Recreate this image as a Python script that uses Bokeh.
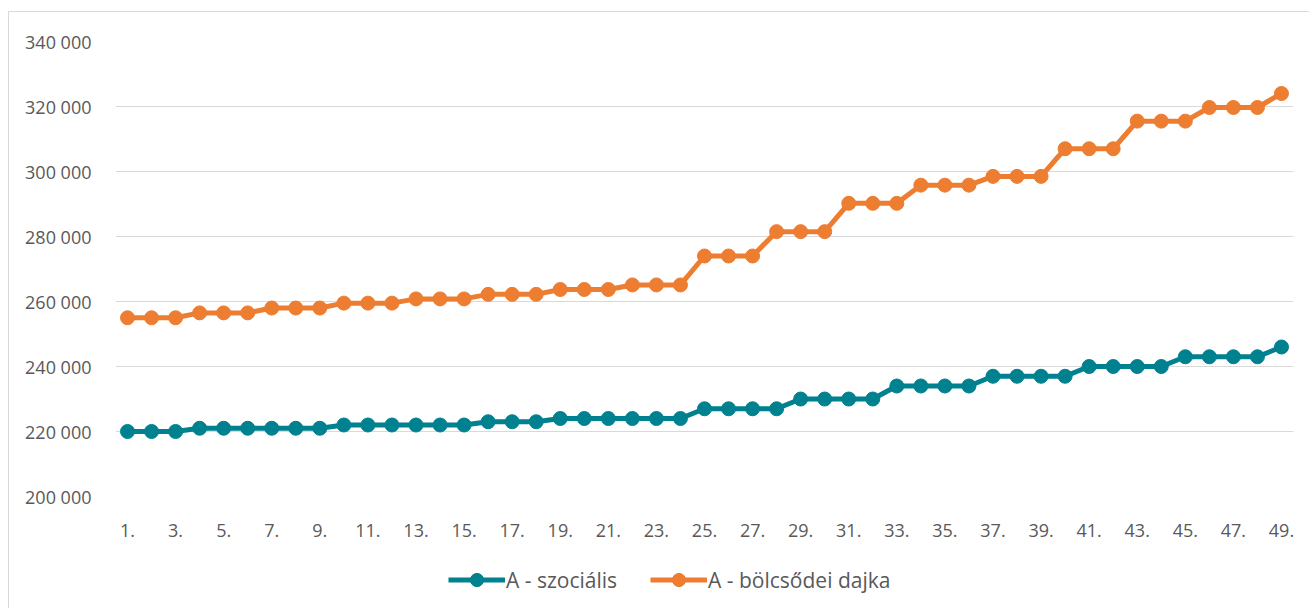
from bokeh.plotting import figure
from bokeh.layouts import column
from bokeh.models import Range1d, FixedTicker, Legend, LegendItem
from bokeh.embed import file_html
from bokeh.resources import INLINE

categories = [f"{i}." for i in range(1, 50)]

szocialis = [
    220000, 220000, 220000,
    221000, 221000, 221000, 221000, 221000, 221000,
    222000, 222000, 222000, 222000, 222000, 222000,
    223000, 223000, 223000,
    224000, 224000, 224000, 224000, 224000, 224000,
    227000, 227000, 227000, 227000,
    230000, 230000, 230000, 230000,
    234000, 234000, 234000, 234000,
    237000, 237000, 237000, 237000,
    240000, 240000, 240000, 240000,
    243000, 243000, 243000, 243000,
    246000,
]

bolcsodei_dajka = [
    255000, 255000, 255000,
    256500, 256500, 256500,
    258000, 258000, 258000,
    259500, 259500, 259500,
    260800, 260800, 260800,
    262200, 262200, 262200,
    263700, 263700, 263700,
    265100, 265100, 265100,
    274000, 274000, 274000,
    281500, 281500, 281500,
    290200, 290200, 290200,
    295800, 295800, 295800,
    298500, 298500, 298500,
    307000, 307000, 307000,
    315500, 315500, 315500,
    319700, 319700, 319700,
    324000,
]

series_names = ["A - szociális", "A - bölcsődei dajka"]
y_ticks = [200000, 220000, 240000, 260000, 280000, 300000, 320000, 340000]
y_tick_labels = ["200 000", "220 000", "240 000", "260 000", "280 000", "300 000", "320 000", "340 000"]

TEAL = "#00818F"
ORANGE = "#ED7D31"
TEXT = "#595959"
GRID = "#d9d9d9"
FONT = "Open Sans"

x = list(range(len(categories)))
series = [szocialis, bolcsodei_dajka]
colors = [TEAL, ORANGE]

p = figure(
    width=1300, height=544,
    output_backend="svg", toolbar_location=None,
    x_range=Range1d(-0.5, len(categories) - 0.5),
    y_range=Range1d(y_ticks[0], y_ticks[-1]),
    min_border_left=106, min_border_right=16,
    min_border_top=29, min_border_bottom=60,
    outline_line_color=None,
    background_fill_color="white", border_fill_color="white",
)

p.xgrid.grid_line_color = None
p.ygrid.grid_line_color = GRID
p.ygrid.grid_line_width = 1

p.xaxis.ticker = FixedTicker(ticks=x[::2])
p.xaxis.major_label_overrides = {i: categories[i] for i in x[::2]}
p.yaxis.ticker = FixedTicker(ticks=y_ticks)
p.yaxis.major_label_overrides = dict(zip(y_ticks, y_tick_labels))

for ax in (p.xaxis[0], p.yaxis[0]):
    ax.axis_line_color = None
    ax.major_tick_line_color = None
    ax.minor_tick_line_color = None
    ax.major_label_text_font = FONT
    ax.major_label_text_font_size = "18px"
    ax.major_label_text_color = TEXT
p.yaxis.major_label_standoff = 18
p.xaxis.major_label_standoff = 21

for vals, col in zip(series, colors):
    p.line(x, vals, line_color=col, line_width=5)
    p.scatter(x, vals, size=14, fill_color=col, line_color=col)

# legend strip below the chart (same series, drawn out of view; only the legend shows)
lg = figure(
    width=1300, height=52,
    output_backend="svg", toolbar_location=None,
    x_range=p.x_range, y_range=Range1d(0, 1),
    x_axis_location=None, y_axis_location=None,
    min_border=0, outline_line_color=None,
    background_fill_color="white", border_fill_color="white",
)
lg.xgrid.grid_line_color = None
lg.ygrid.grid_line_color = None
items = []
for name, vals, col in zip(series_names, series, colors):
    l = lg.line(x, vals, line_color=col, line_width=5)
    s = lg.scatter(x, vals, size=14, fill_color=col, line_color=col)
    items.append(LegendItem(label=name, renderers=[l, s]))

legend = Legend(
    items=items, orientation="horizontal",
    location=(333, 12), padding=0, margin=0,
    glyph_width=57, glyph_height=33, label_standoff=1, spacing=33,
    label_text_font=FONT, label_text_font_size="21px", label_text_color=TEXT,
    border_line_color=None, background_fill_alpha=0,
)
lg.add_layout(legend, "center")

layout = column(
    p, lg, spacing=0,
    styles={"border-left": "1px solid #d9d9d9", "border-top": "1px solid #d9d9d9"},
    margin=(11, 0, 0, 8),
)

open("out.html", "w").write(file_html(layout, INLINE))
